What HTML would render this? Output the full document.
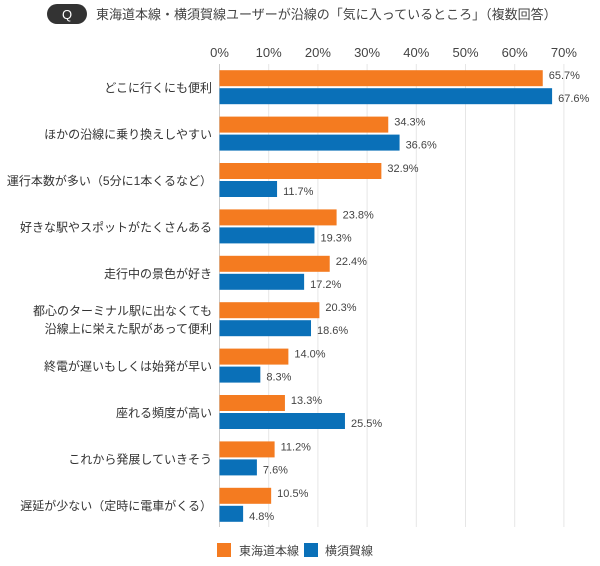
<!DOCTYPE html>
<html><head><meta charset="utf-8"><style>
body{margin:0;background:#fff;width:600px;height:561px;overflow:hidden;font-family:"Liberation Sans","Noto Sans CJK JP",sans-serif;color:#333}
svg text{font-family:"Liberation Sans","Noto Sans CJK JP",sans-serif}
</style></head><body>
<svg id="c" width="600" height="561">
<rect x="47" y="4" width="40" height="20" rx="10" fill="#333"/>
<text x="67" y="19" font-size="13" fill="#fff" text-anchor="middle">Q</text>
<text x="96" y="19" font-size="13" fill="#444">東海道本線・横須賀線ユーザーが沿線の「気に入っているところ」（複数回答）</text>
<g id="grid"></g><g id="bars"></g>
<rect x="217" y="543" width="14" height="14" fill="#f47b20"/>
<text x="239" y="555" font-size="12" fill="#444">東海道本線</text>
<rect x="304" y="543" width="14" height="14" fill="#0a70b8"/>
<text x="325" y="555" font-size="12" fill="#444">横須賀線</text>
</svg>
<script>
const categories=[["どこに行くにも便利"],["ほかの沿線に乗り換えしやすい"],["運行本数が多い（5分に1本くるなど）"],["好きな駅やスポットがたくさんある"],["走行中の景色が好き"],["都心のターミナル駅に出なくても","沿線上に栄えた駅があって便利"],["終電が遅いもしくは始発が早い"],["座れる頻度が高い"],["これから発展していきそう"],["遅延が少ない（定時に電車がくる）"]];
const tokaido=[65.7,34.3,32.9,23.8,22.4,20.3,14.0,13.3,11.2,10.5];
const yokosuka=[67.6,36.6,11.7,19.3,17.2,18.6,8.3,25.5,7.6,4.8];
const ticks=[0,10,20,30,40,50,60,70];
const NS="http://www.w3.org/2000/svg";
const x0=219.5,pxPer=4.92,plotTop=64,rowH=46.4,plotBottom=527;
const xs=v=>x0+v*pxPer;
function mk(tag,attrs,parent,text){const e=document.createElementNS(NS,tag);for(const k in attrs)e.setAttribute(k,attrs[k]);if(text!=null)e.textContent=text;parent.appendChild(e);return e;}
const grid=document.getElementById('grid'),bars=document.getElementById('bars');
ticks.forEach(t=>{
 const l=mk('line',{x1:xs(t),x2:xs(t),y1:plotTop,y2:plotBottom,stroke:t===0?'#ccc':'#e6e6e6','stroke-width':1},grid);
 
 
 const tx=mk('text',{x:xs(t),y:57,'font-size':13,fill:'#444','text-anchor':'middle'},grid,t+'%');
 
 
});
categories.forEach((c,i)=>{
 const cy=plotTop+rowH*(i+0.5);
 const a=mk('rect',{x:x0,y:cy-17,width:xs(tokaido[i])-x0,height:16,fill:'#f47b20'},bars);
 
 
 const b=mk('rect',{x:x0,y:cy+1,width:xs(yokosuka[i])-x0,height:16,fill:'#0a70b8'},bars);
 
 
 const la=mk('text',{x:xs(tokaido[i])+6,y:cy-8,'font-size':11,fill:'#444'},bars,tokaido[i].toFixed(1)+'%');
 
 
 const lb=mk('text',{x:xs(yokosuka[i])+6,y:cy+15,'font-size':11,fill:'#444'},bars,yokosuka[i].toFixed(1)+'%');
 
 
 c.forEach((s,j)=>{
  const y=cy+5+(j-(c.length-1)/2)*18;
  const t=mk('text',{x:212,y:y,'font-size':12,fill:'#333','text-anchor':'end'},bars,s);
  
  
 });
});
</script>
</body></html>
